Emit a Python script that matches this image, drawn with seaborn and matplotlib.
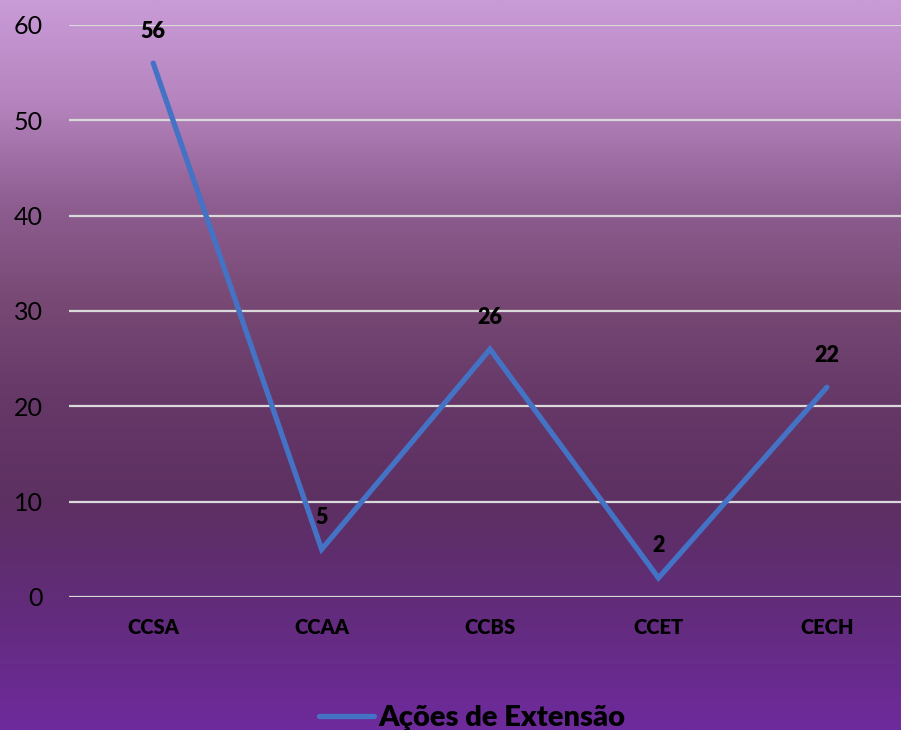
import numpy as np
import pandas as pd
import matplotlib
matplotlib.use("Agg")
import matplotlib.pyplot as plt
from matplotlib.colors import LinearSegmentedColormap
import seaborn as sns

categories = ["CCSA", "CCAA", "CCBS", "CCET", "CECH"]
values = [56, 5, 26, 2, 22]
series_name = "Ações de Extensão"
y_ticks = [0, 10, 20, 30, 40, 50, 60]

sns.set_theme(style="white")
plt.rcParams["font.family"] = ["Lato", "DejaVu Sans"]

W, H = 901, 730
fig = plt.figure(figsize=(W / 100, H / 100), dpi=100)

# background gradient
bg = fig.add_axes([0, 0, 1, 1], zorder=-10)
stops = [(0.0, "#c99bd7"), (0.14, "#b584be"), (0.27, "#905f93"), (0.41, "#784974"),
         (0.55, "#653868"), (0.69, "#5d3062"), (0.82, "#612c78"), (1.0, "#6e2a9c")]
cmap = LinearSegmentedColormap.from_list("bg", stops)
grad = np.linspace(0, 1, 512).reshape(-1, 1)
bg.imshow(grad, aspect="auto", cmap=cmap, extent=[0, 1, 0, 1], origin="upper")
bg.set_axis_off()

left = 69 / W
bottom = (H - 597) / H
top = (H - 25) / H
ax = fig.add_axes([left, bottom, 1 - left, top - bottom])
ax.patch.set_alpha(0)

df = pd.DataFrame({"cat": categories, "val": values})
df["x"] = np.arange(len(categories))
sns.lineplot(data=df, x="x", y="val", ax=ax, color="#4472c4", linewidth=3.8,
             label=series_name, solid_capstyle="round", solid_joinstyle="miter", clip_on=False, zorder=3)

for xi, v in zip(df["x"], df["val"]):
    ax.annotate(str(v), (xi, v), xytext=(0, 23), textcoords="offset points",
                ha="center", va="center", fontsize=15.5, fontweight="heavy", color="black",
                annotation_clip=False)

ax.set_xlim(-0.5, 4.44)
ax.set_ylim(0, 60)
ax.set_yticks(y_ticks)
ax.set_xticks(df["x"])
ax.set_xticklabels(categories, fontsize=14.5, fontweight="heavy", color="black")
ax.tick_params(axis="y", labelsize=18, labelcolor="black", length=0, pad=19)
ax.tick_params(axis="x", length=0, pad=15)
ax.yaxis.grid(True, color="#d9d9d9", linewidth=1.6)
ax.xaxis.grid(False)
ax.set_axisbelow(True)
for s in ax.spines.values():
    s.set_visible(False)
ax.set_xlabel("")
ax.set_ylabel("")

handles, labels = ax.get_legend_handles_labels()
ax.get_legend().remove()
fig.legend(handles, labels, loc="center", bbox_to_anchor=(0.524, 0.016), frameon=False,
           prop={"size": 21, "weight": "heavy"}, labelcolor="black",
           handlelength=1.9, handletextpad=0.15)

fig.savefig("out.png", dpi=100)
